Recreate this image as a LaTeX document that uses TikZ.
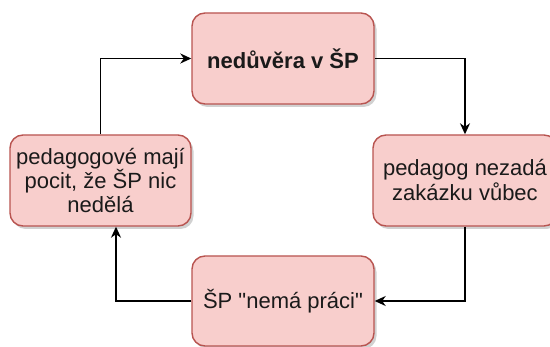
\documentclass[tikz,border=0pt]{standalone}
\usepackage{fontspec}
\setmainfont{Liberation Sans}
\usetikzlibrary{arrows.meta,shadows}
\definecolor{boxfill}{HTML}{F8CECC}
\definecolor{boxstroke}{HTML}{B85450}
\definecolor{textcol}{HTML}{1A1A1A}
\tikzset{
  box/.style={draw=boxstroke, fill=boxfill, rounded corners=13pt,
    minimum width=182pt, minimum height=91pt, line width=1.4pt,
    drop shadow={shadow xshift=2.5pt, shadow yshift=-3pt, opacity=0.3, fill=black!60},
    font=\fontsize{22}{25}\selectfont, align=center, text=textcol, inner sep=2pt},
  conn/.style={draw=black, line width=1.7pt,
    -{Stealth[length=11pt,width=10pt,inset=3.5pt]}}
}
\begin{document}
\begin{tikzpicture}[x=1pt,y=1pt]
\useasboundingbox (0,0) rectangle (550,-347);
\clip (0,0) rectangle (550,-347);
\node[box] (top) at (283,-58.5) {\textbf{nedůvěra v ŠP}};
\node[box, minimum width=181pt, font=\fontsize{22}{24}\selectfont] (left) at (100.5,-180.5) {pedagogové mají\\pocit, že ŠP nic\\nedělá};
\node[box, minimum width=184pt] (right) at (465,-180.5) {pedagog nezadá\\zakázku vůbec};
\node[box, minimum height=90pt] (bottom) at (283,-301) {ŠP \textquotedbl nemá práci\textquotedbl};
\coordinate (lefttarget) at ([xshift=15.5pt]left.south);
\draw[conn] (left.north) |- (top.west);
\draw[conn] (top.east) -| (right.north);
\draw[conn] (right.south) |- (bottom.east);
\draw[conn] (bottom.west) -| (lefttarget);
\end{tikzpicture}
\end{document}
